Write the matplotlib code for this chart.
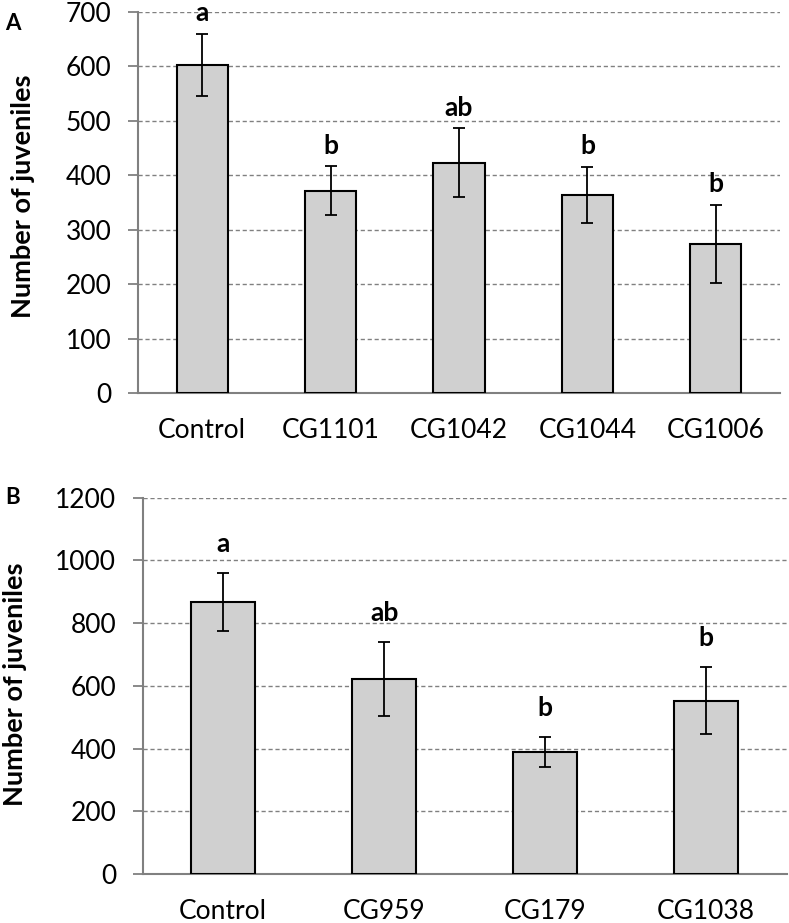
import matplotlib
matplotlib.use("Agg")
from matplotlib import pyplot as plt

plt.rcParams['font.family'] = ['Lato', 'DejaVu Sans']

# panel A
groups_a = ["Control", "CG1101", "CG1042", "CG1044", "CG1006"]
means_a = [603, 372, 423, 364, 274]
errs_a = [57, 45, 63, 52, 72]
letters_a = ["a", "b", "ab", "b", "b"]
yticks_a = [0, 100, 200, 300, 400, 500, 600, 700]

# panel B
groups_b = ["Control", "CG959", "CG179", "CG1038"]
means_b = [868, 623, 389, 553]
errs_b = [93, 118, 48, 108]
letters_b = ["a", "ab", "b", "b"]
yticks_b = [0, 200, 400, 600, 800, 1000, 1200]

GREY = "#808080"
BAR = "#d0d0d0"


def draw_panel(ax, groups, means, errs, letters, yticks, letter_off):
    x = list(range(len(groups)))
    ax.bar(x, means, width=0.4, color=BAR, edgecolor="black", linewidth=1.5,
           yerr=errs, capsize=4.5, error_kw=dict(elinewidth=1.3, capthick=1.3, ecolor="black"),
           zorder=3)
    for xi, m, e, lab in zip(x, means, errs, letters):
        ax.annotate(lab, (xi, m + e), xytext=(0, letter_off), textcoords="offset points",
                    ha="center", va="bottom", fontsize=19, fontweight="bold",
                    annotation_clip=False, zorder=4)
    ax.set_xlim(-0.5, len(groups) - 0.5)
    ax.set_ylim(yticks[0], yticks[-1])
    ax.set_yticks(yticks)
    ax.set_xticks(x)
    ax.set_xticklabels(groups)
    ax.yaxis.grid(True, linestyle=(0, (3, 2)), color=GREY, linewidth=1.0, zorder=0)
    ax.set_axisbelow(True)
    for s in ["top", "right"]:
        ax.spines[s].set_visible(False)
    for s in ["left", "bottom"]:
        ax.spines[s].set_color(GREY)
        ax.spines[s].set_linewidth(1.5)
    ax.tick_params(axis="y", length=7, width=1.3, color=GREY, pad=12, labelsize=19)
    ax.tick_params(axis="x", length=0, pad=18, labelsize=19)
    ax.set_ylabel("Number of juveniles", fontsize=19.5, fontweight="bold")


fig = plt.figure(figsize=(7.89, 9.23), dpi=100)
ax_a = fig.add_axes([0.1749, 0.5742, 0.8137, 0.4128])
ax_b = fig.add_axes([0.1809, 0.0531, 0.8161, 0.4077])

draw_panel(ax_a, groups_a, means_a, errs_a, letters_a, yticks_a, 6)
draw_panel(ax_b, groups_b, means_b, errs_b, letters_b, yticks_b, 12)
ax_a.yaxis.set_label_coords(-0.160, 0.516)
ax_b.yaxis.set_label_coords(-0.180, 0.505)

fig.text(5 / 789, 1 - 23 / 923, "A", fontsize=16, fontweight="bold", ha="left", va="center")
fig.text(5 / 789, 1 - 498 / 923, "B", fontsize=16, fontweight="bold", ha="left", va="center")

fig.savefig("out.png", dpi=100)
